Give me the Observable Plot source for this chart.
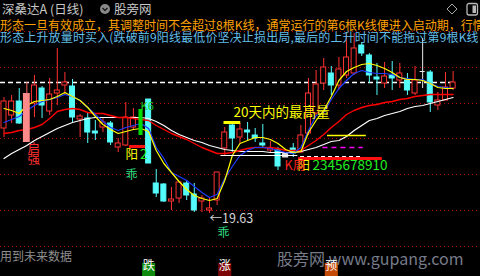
<!DOCTYPE html>
<html>
<head>
<meta charset="utf-8">
<script src="https://cdn.jsdelivr.net/npm/d3@7"></script>
<script src="https://cdn.jsdelivr.net/npm/@observablehq/plot@0.6"></script>
<style>
  html, body { margin: 0; padding: 0; background: #000; }
  #wrap { position: relative; width: 480px; height: 276px; background: #000; overflow: hidden;
          font-family: "Noto Sans CJK SC", "Noto Sans", sans-serif; }
  #wrap > svg.plot-root { position: absolute; left: 0; top: 0; z-index: 1; }
  .ov { position: absolute; white-space: nowrap; font-size: 12px; line-height: 12px; z-index: 2; }
  .wm { position: absolute; white-space: nowrap; z-index: 0; }
</style>
</head>
<body>
<div id="wrap">
  <div class="ov" style="left:2px;top:2px;color:#c8c8c8;font-size:12.5px;line-height:13px;">深桑达A (日线)</div>
  <svg class="ov" style="left:99px;top:3px" width="12" height="12"><circle cx="6" cy="6" r="5" fill="#8a8a8a"/><path d="M3.5 5 L6 7.5 L8.5 5" stroke="#1a1a1a" stroke-width="1.4" fill="none"/></svg>
  <div class="ov" style="left:114px;top:2px;color:#c8c8c8;font-size:12.5px;line-height:13px;">股旁网</div>
  <svg class="ov" style="left:445px;top:2px" width="35" height="16">
    <path d="M7 2 L12 7 L7 12 L2 7 Z" stroke="#a8a8a8" stroke-width="1" fill="none"/>
    <rect x="22" y="1.5" width="10.5" height="11.5" rx="2" stroke="#b8b8b8" stroke-width="1.3" fill="none"/>
    <rect x="27.5" y="3.5" width="3.5" height="7.5" fill="#b8b8b8"/>
  </svg>
  <div class="ov" style="left:0px;top:19px;color:#ffa200;">形态一旦有效成立，其调整时间不会超过8根K线，通常运行的第6根K线便进入启动期，行情</div>
  <div class="ov" style="left:0px;top:31px;color:#62bde6;letter-spacing:0.15px;">形态上升放量时买入(跌破前9阳线最低价坚决止损出局,最后的上升时间不能拖过第9根K线</div>
  <div class="ov" style="left:0px;top:250px;color:#8e8e8e;">用到未来数据</div>
  <div class="wm" style="left:277px;top:250px;color:#767c8a;font-size:16px;line-height:17px;">股旁网 www.gupang.com</div>
</div>
<script>
// Daily prices (yuan), one entry per trading day
const opens  = [23.88,24.53,25.23,23.18,25.13,25.88,24.73,25.63,26.03,25.98,
                24.33,24.38,23.73,23.93,24.13,22.93,23.03,23.93,23.53,25.33,
                21.13,21.08,20.23,20.38,21.13,20.58,20.23,19.78,20.28,22.88,
                24.03,23.43,23.78,23.53,23.13,22.78,22.78,22.43,22.88,22.68,
                23.63,24.63,26.13,26.63,26.03,26.53,26.63,28.03,27.53,26.43,
                26.13,26.53,26.28,26.28,25.63,26.73,26.68,25.03,25.28,25.88];
const highs  = [25.43,25.53,25.88,26.18,26.53,25.98,26.38,27.88,26.68,26.33,
                24.58,24.63,24.28,24.43,24.23,23.38,25.18,24.88,24.83,25.33,
                21.83,21.13,20.93,21.18,21.28,21.13,20.53,20.38,21.68,23.93,
                24.18,24.13,24.18,23.88,24.08,23.23,22.93,22.63,23.13,24.03,
                26.38,26.78,27.38,26.98,27.43,28.68,28.63,28.18,27.63,27.13,
                27.18,27.23,27.13,26.63,26.98,28.38,26.78,25.68,26.68,26.73];
const lows   = [23.43,24.13,24.08,23.18,24.43,24.38,24.53,25.03,25.53,24.13,
                23.43,23.13,23.28,23.68,23.03,22.68,22.98,23.78,23.53,22.13,
                20.43,20.18,19.78,20.13,20.28,19.68,19.68,19.63,20.03,22.53,
                22.68,23.13,23.28,23.18,22.88,22.68,21.78,22.43,22.43,22.63,
                23.53,24.53,25.78,25.53,25.78,26.38,26.53,27.48,26.13,25.53,
                25.88,25.78,25.88,25.53,25.53,25.88,24.68,24.78,25.28,25.78];
const closes = [25.23,25.23,24.13,25.63,26.03,25.03,25.58,25.78,26.18,24.43,
                24.48,23.68,23.63,24.18,23.18,23.13,24.43,24.43,24.83,22.13,
                20.63,20.23,20.33,21.18,20.53,19.78,20.38,19.88,21.68,23.68,
                23.38,23.83,23.68,23.38,23.03,22.88,21.98,22.63,22.63,23.53,
                25.63,26.08,26.93,26.03,26.83,27.43,27.88,27.63,26.53,26.33,
                26.48,26.38,26.63,25.78,26.28,26.73,25.18,25.28,25.93,26.18];

// Days flagged by the indicator
const surgeDays = [3];        // 启强 stick
const breakDays = [18];       // K6 stick
const neutralDays = [37, 55]; // white bars

// Moving averages
const ma5  = [24.88,24.78,24.63,25.03,25.23,25.28,25.33,25.48,25.68,25.48,
              25.28,24.93,24.48,24.08,23.83,23.63,23.73,23.83,23.88,23.73,
              22.78,22.13,21.68,21.23,20.83,20.53,20.38,20.28,20.38,21.28,
              22.53,23.13,23.28,23.43,23.43,23.33,23.13,22.83,22.68,22.73,
              23.68,24.28,24.78,25.48,26.28,26.73,26.93,27.08,27.13,27.03,
              26.88,26.68,26.43,26.33,26.33,26.28,26.13,25.93,25.88,25.88];
const ma10 = [24.18,24.33,24.48,24.78,25.03,25.23,25.33,25.43,25.58,25.48,
              25.28,24.93,24.58,24.23,23.93,23.78,23.93,24.03,24.13,23.88,
              22.93,22.38,21.68,21.48,21.28,20.98,20.68,20.43,20.58,21.38,
              21.98,22.53,22.78,22.93,22.93,22.88,22.78,22.68,22.63,22.93,
              23.78,24.53,24.68,25.33,25.88,26.28,26.63,26.78,26.68,26.63,
              26.63,26.58,26.43,26.38,26.33,26.33,26.13,25.98,25.93,25.88];
const ma20 = [23.63,23.68,23.78,23.83,23.93,24.08,24.38,24.73,24.83,24.88,
              24.83,24.68,24.63,24.63,24.53,24.43,24.43,24.38,24.33,24.28,
              24.03,23.83,23.63,23.48,23.33,23.13,22.93,22.78,22.63,22.63,
              22.68,22.78,22.88,22.93,22.93,22.93,22.88,22.78,22.78,22.78,
              23.03,23.28,23.58,23.93,24.23,24.58,24.78,24.93,25.03,25.08,
              25.18,25.23,25.33,25.38,25.48,25.53,25.58,25.58,25.58,25.58];
const ma60 = [22.38,22.63,22.83,23.03,23.28,23.48,23.68,23.88,24.03,24.18,
              24.28,24.38,24.43,24.43,24.43,24.43,24.43,24.43,24.43,24.38,
              24.23,24.03,23.78,23.58,23.43,23.28,23.18,23.03,22.93,22.83,
              22.78,22.73,22.73,22.73,22.73,22.68,22.68,22.68,22.68,22.73,
              22.83,22.93,23.08,23.23,23.28,23.48,23.78,24.03,24.28,24.38,
              24.53,24.63,24.73,24.88,24.98,25.03,25.13,25.23,25.33,25.43];

// Price grid and the pressure level
const gridLevels = [28.73, 26.93, 25.13, 23.38, 21.58, 19.78, 17.98];
const pressureLevel = 26.18;

// Day with the highest volume in 20 days
const topVolumeDay = 30;

// Horizontal signal segments: price, first day, last day, role
const segPrice = [22.98, 22.53, 22.38, 22.48, 23.53, 22.93];
const segFrom  = [16.5, 28.5, 38.7, 38.96, 42.5, 41.9];
const segTo    = [18.6, 38.6, 49.7, 47.2, 47.6, 47.2];
const segRole  = ["bar", "support", "bar", "dash", "target", "stop"];

// Text notes: label, day, price, role
const noteText  = ["启", "强", "阳", "2", "K6", "乖", "乖", "20天内的最高量", "K周", "阳", "2345678910"];
const noteDay   = [3.09, 3.09, 15.96, 17.87, 17.94, 15.96, 28.06, 30.16, 36.86, 38.57, 40.54];
const notePrice = [22.88, 22.33, 22.58, 22.58, 24.98, 21.53, 18.66, 24.66, 22.03, 22.03, 22.03];
const noteRole  = ["start", "start", "yang", "count", "k6", "guai", "guai", "volume", "cycle", "yang", "count"];

// Bottom signal boxes
const signalDays = [19, 29, 43];
const signalText = ["跌", "涨", "预"];

// ---- build ----
const bars = opens.map((o, i) => {
  const c = closes[i];
  let kind = c >= o ? "up" : "down";
  if (surgeDays.includes(i)) kind = "surge";
  if (breakDays.includes(i)) kind = "break";
  if (neutralDays.includes(i)) kind = "neutral";
  return {day: i, o, c, h: highs[i], l: lows[i], top: Math.max(o, c), bot: Math.min(o, c), kind};
});
const strokeOf = {up: "#ff3232", down: "#54fcfc", surge: "#ff6060", break: "#00dc00", neutral: "#e8e8e8"};
const fillOf   = {up: "#000000", down: "#54fcfc", surge: "#ff8a8a", break: "#00dc00", neutral: "#d8d8d8"};
const half = 0.33;
const normal = bars.filter(d => d.kind !== "surge" && d.kind !== "break");
const sticks = bars.filter(d => d.kind === "surge" || d.kind === "break");

const segs = segPrice.map((p, i) => ({p, a: segFrom[i], b: segTo[i], role: segRole[i]}));
const segStyle = {
  bar:     {stroke: "#ff1010", strokeWidth: 3},
  support: {stroke: "#ffffff", strokeWidth: 1.2},
  dash:    {stroke: "#ffffff", strokeWidth: 1, strokeDasharray: "4,3"},
  target:  {stroke: "#ffff00", strokeWidth: 1.3},
  stop:    {stroke: "#ff00ff", strokeWidth: 1.3, strokeDasharray: "5,4"}
};
const notes = noteText.map((t, i) => ({t, day: noteDay[i], p: notePrice[i], role: noteRole[i]}));
const noteStyle = {
  start:  {fill: "#ff3030", fontSize: 12.5},
  yang:   {fill: "#ffff00", fontSize: 12.5},
  count:  {fill: "#22ee22", fontSize: 13.5},
  k6:     {fill: "#22cc22", fontSize: 11},
  guai:   {fill: "#30dd80", fontSize: 12},
  volume: {fill: "#ffff00", fontSize: 13.5},
  cycle:  {fill: "#ff2020", fontSize: 12.5}
};
const signalFill = {"跌": "#0f8a0f", "涨": "#7c0606", "预": "#c44a08"};

const lowDay = d3.minIndex(lows);

const marks = [
  Plot.ruleY(gridLevels, {stroke: "#b00000", strokeWidth: 1, strokeDasharray: "1,3"}),
  Plot.ruleY([pressureLevel], {x1: -0.46, x2: 59.3, stroke: "#ffffff", strokeWidth: 1.3, strokeDasharray: "5,3"}),
  // candles
  Plot.ruleX(normal, {x: "day", y1: "top", y2: "h", stroke: d => strokeOf[d.kind]}),
  Plot.ruleX(normal, {x: "day", y1: "l", y2: "bot", stroke: d => strokeOf[d.kind]}),
  Plot.rect(normal.filter(d => d.top > d.bot), {
    x1: d => d.day - half, x2: d => d.day + half, y1: "bot", y2: "top",
    fill: d => fillOf[d.kind], stroke: d => strokeOf[d.kind], strokeWidth: 1
  }),
  Plot.ruleY(normal.filter(d => d.top === d.bot), {
    y: "c", x1: d => d.day - half, x2: d => d.day + half, stroke: d => strokeOf[d.kind]
  }),
  // moving averages
  Plot.lineY(ma60, {stroke: "#ffffff", strokeWidth: 1.2}),
  Plot.lineY(ma20, {stroke: "#ff0000", strokeWidth: 1.4}),
  Plot.lineY(ma10, {stroke: "#1e3cff", strokeWidth: 1.2}),
  Plot.lineY(ma5,  {stroke: "#ffff00", strokeWidth: 1.2}),
  // indicator sticks
  Plot.ruleX(sticks, {x: "day", y1: "top", y2: "h", stroke: d => strokeOf[d.kind]}),
  Plot.rect(sticks, {
    x1: d => d.day - (d.kind === "surge" ? 0.45 : 0.27), x2: d => d.day + (d.kind === "surge" ? 0.45 : 0.27),
    y1: "bot", y2: "top", fill: d => fillOf[d.kind]
  }),
  // 20-day top volume marker
  Plot.ruleY([topVolumeDay], {y: d => highs[d], x1: d => d - 1.1, x2: d => d + 1.1, stroke: "#ffff00", strokeWidth: 3}),
  // horizontal signal segments
  ...Object.keys(segStyle).map(role =>
    Plot.ruleY(segs.filter(s => s.role === role), {y: "p", x1: "a", x2: "b", ...segStyle[role]})
  ),
  // notes
  ...Object.keys(noteStyle).map(role =>
    Plot.text(notes.filter(n => n.role === role), {x: "day", y: "p", text: "t", textAnchor: "start", ...noteStyle[role]})
  ),
  Plot.text([lowDay], {
    x: d => d, y: d => lows[d], text: d => "←" + lows[d].toFixed(2),
    textAnchor: "start", lineAnchor: "top", dy: 1, fill: "#d4d4d4", fontSize: 12.5
  }),
  // bottom signal boxes
  Plot.dot(signalDays, {x: d => d, frameAnchor: "bottom", dy: -7, symbol: "square", r: 7.4,
    fill: (d, i) => signalFill[signalText[i]]}),
  Plot.text(signalDays, {x: d => d, frameAnchor: "bottom", dy: -7, text: (d, i) => signalText[i],
    fill: "#ffffff", fontSize: 12})
];

const chart = Plot.plot({
  width: 480, height: 276,
  marginTop: 0, marginRight: 0, marginBottom: 0, marginLeft: 0,
  x: {domain: [-0.46, 62.6], axis: null},
  y: {domain: [16.48, 30.28], axis: null},
  color: {type: "identity"},
  style: {background: "transparent", fontFamily: "'Noto Sans CJK SC', 'Noto Sans', sans-serif"},
  marks
});
chart.classList.add("plot-root");
document.getElementById("wrap").appendChild(chart);
</script>
</body>
</html>
